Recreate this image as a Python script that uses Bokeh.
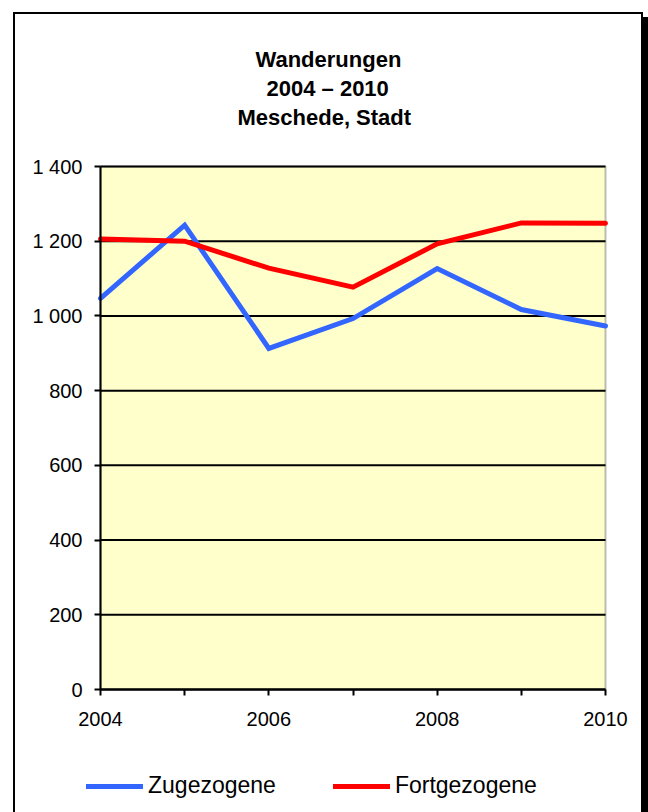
from bokeh.plotting import figure
from bokeh.models import (FixedTicker, Legend, LegendItem, Title, Range1d,
                          InlineStyleSheet, BoxAnnotation)
from bokeh.embed import file_html
from bokeh.resources import INLINE

years = [2004, 2005, 2006, 2007, 2008, 2009, 2010]
zugezogene = [1047, 1243, 913, 993, 1127, 1017, 973]
fortgezogene = [1206, 1200, 1128, 1077, 1193, 1249, 1248]
y_ticks = [0, 200, 400, 600, 800, 1000, 1200, 1400]
y_tick_labels = ["0", "200", "400", "600", "800", "1 000", "1 200", "1 400"]
x_ticks = [2004, 2006, 2008, 2010]
x_minor_ticks = [2005, 2007, 2009]
series_names = ["Zugezogene", "Fortgezogene"]
title_lines = ["Wanderungen", "2004 \u2013 2010", "Meschede, Stadt"]

FONT = "Liberation Sans"

# ---- layout constants (pixels) ----
W, H = 648, 812
TOP = 130                    # top of drawing frame (title block above)
PL, PR = 100, 605            # plot area left/right
PT, PB = 166, 689            # plot area top/bottom
x0, x1 = years[0], years[-1]
y0, y1 = y_ticks[0], y_ticks[-1]
xs = (PR - PL) / (x1 - x0)
ys = (PB - PT) / (y1 - y0)
x_range = Range1d(x0 - PL / xs, x1 + (W - PR) / xs)
y_range = Range1d(y0 - (H - PB) / ys, y1 + (PT - TOP) / ys)

p = figure(width=W, height=H, output_backend="svg", toolbar_location=None,
           x_range=x_range, y_range=y_range,
           min_border_left=0, min_border_right=0, min_border_top=TOP,
           min_border_bottom=0)
p.background_fill_color = "white"
p.border_fill_color = "white"
p.outline_line_color = None
p.grid.visible = False

# yellow plot area with dark outline
p.add_layout(BoxAnnotation(left=x0, right=x1, bottom=y0, top=y1,
                           fill_color="#FFFFCC", fill_alpha=1,
                           line_color="#222222", line_width=2,
                           level="underlay"))

# horizontal grid lines at the y ticks
p.segment(x0=[x0] * len(y_ticks), x1=[x1] * len(y_ticks), y0=y_ticks,
          y1=y_ticks, line_color="black", line_width=2)

xax = p.xaxis[0]
yax = p.yaxis[0]
xax.fixed_location = y0
yax.fixed_location = x0
xax.bounds = (x0, x1)
yax.bounds = (y0, y1)
yax.ticker = FixedTicker(ticks=y_ticks)
yax.major_label_overrides = {t: l for t, l in zip(y_ticks, y_tick_labels)}
xax.ticker = FixedTicker(ticks=x_ticks, minor_ticks=x_minor_ticks)

for ax in (xax, yax):
    ax.axis_line_color = "black"
    ax.axis_line_width = 2
    ax.major_tick_line_color = "black"
    ax.major_tick_line_width = 2
    ax.major_tick_in = 0
    ax.major_tick_out = 6
    ax.major_label_text_font = FONT
    ax.major_label_text_font_size = "20px"
    ax.major_label_text_color = "black"
yax.minor_tick_line_color = None
yax.major_label_standoff = 12
xax.minor_tick_line_color = "black"
xax.minor_tick_line_width = 2
xax.minor_tick_in = 0
xax.minor_tick_out = 6
xax.major_label_standoff = 16

r1 = p.line(years, zugezogene, line_color="#3366FF", line_width=5,
            line_join="miter", line_cap="round")
r2 = p.line(years, fortgezogene, line_color="#FF0000", line_width=5,
            line_join="miter", line_cap="round")

legend = Legend(items=[LegendItem(label=series_names[0], renderers=[r1]),
                       LegendItem(label=series_names[1], renderers=[r2])],
                orientation="horizontal", location=(86, 13),
                border_line_color=None, background_fill_alpha=0,
                label_text_font=FONT, label_text_font_size="23px",
                label_text_color="black",
                glyph_width=57, glyph_height=24, label_standoff=5,
                spacing=57, padding=0, margin=0)
p.add_layout(legend, "center")

title_offsets = [255, 266, 237]
for txt, off in reversed(list(zip(title_lines, title_offsets))):
    p.add_layout(Title(text=txt, align="left", offset=off, standoff=2,
                       text_font=FONT, text_font_size="22px",
                       text_font_style="bold", text_color="black"), "above")

frame_css = InlineStyleSheet(css="""
:host::after {
  content: "";
  position: absolute;
  left: 13px; top: 12px; width: 630px; height: 800px;
  border: 2px solid black; border-bottom: 0;
  box-sizing: border-box; pointer-events: none; z-index: 20;
}
:host::before {
  content: "";
  position: absolute;
  left: 643px; top: 17px; width: 5px; height: 795px;
  background: black; pointer-events: none; z-index: 20;
}
""")
p.stylesheets = [frame_css]

open("out.html", "w").write(file_html(p, INLINE))
